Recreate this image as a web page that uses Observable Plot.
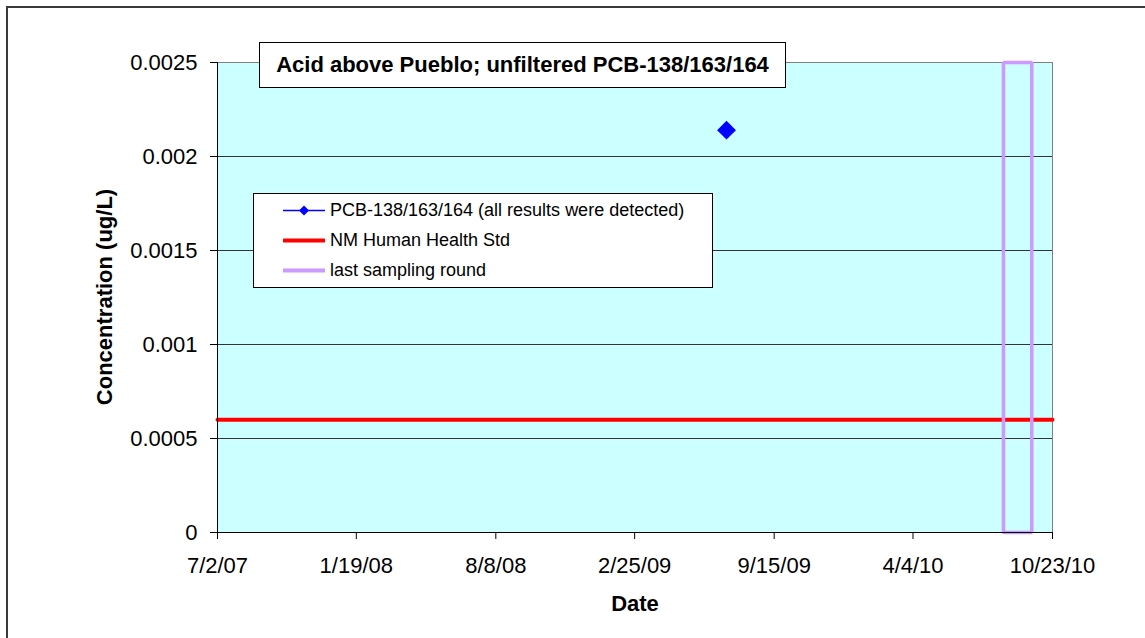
<!DOCTYPE html>
<html><head><meta charset="utf-8">
<script src="https://cdn.jsdelivr.net/npm/d3@7"></script>
<script src="https://cdn.jsdelivr.net/npm/@observablehq/plot@0.6"></script>
<style>
body{margin:0;background:#fff;}
#wrap{position:relative;width:1145px;height:638px;overflow:hidden;font-family:"Liberation Sans",Arial,sans-serif;color:#000;}
#outer{position:absolute;left:6px;top:6px;width:1300px;height:800px;border:2px solid #3a3a3a;box-sizing:border-box;}
#chart{position:absolute;left:0;top:0;}
.title{position:absolute;left:259px;top:42px;width:527px;height:46px;box-sizing:border-box;border:1px solid #000;background:#fff;font-weight:bold;font-size:22px;display:flex;align-items:center;justify-content:center;white-space:nowrap;}
.ylab{position:absolute;left:105px;top:297px;transform:translate(-50%,-50%) rotate(-90deg);font-weight:bold;font-size:22px;white-space:nowrap;}
.xlab{position:absolute;left:635px;top:604px;transform:translate(-50%,-50%);font-weight:bold;font-size:22px;white-space:nowrap;}
.legend{position:absolute;left:253px;top:193px;width:460px;height:95px;box-sizing:border-box;border:1px solid #000;background:#fff;}
.row{position:absolute;left:29px;transform:translateY(-50%);display:flex;align-items:center;font-size:18px;white-space:nowrap;}
.row svg{margin-right:5px;}
</style></head><body>
<div id="wrap"><div id="outer"></div><div id="chart"></div></div>
<script>
// ---- data ----
const xTickLabels = ["7/2/07","1/19/08","8/8/08","2/25/09","9/15/09","4/4/10","10/23/10"];
const yTicks = [0, 0.0005, 0.001, 0.0015, 0.002, 0.0025];
const pcbDates = ["7/8/09"];
const pcbValues = [0.00214];
const stdDates = ["7/2/07","10/23/10"];
const stdValues = [0.0006, 0.0006];
const lastRoundDates = ["8/13/10","8/13/10","9/23/10","9/23/10","8/13/10"];
const lastRoundValues = [0, 0.0025, 0.0025, 0, 0];
const seriesNames = ["PCB-138/163/164 (all results were detected)","NM Human Health Std","last sampling round"];
const titleText = "Acid above Pueblo; unfiltered PCB-138/163/164";

const parse = d3.utcParse("%m/%d/%y");
const fmt = d3.utcFormat("%-m/%-d/%y");
const xTicks = xTickLabels.map(parse);
const pcb = pcbDates.map((d,i)=>({date:parse(d), value:pcbValues[i]}));
const std = stdDates.map((d,i)=>({date:parse(d), value:stdValues[i]}));
const lastRound = lastRoundDates.map((d,i)=>({date:parse(d), value:lastRoundValues[i]}));
const domainX = [xTicks[0], xTicks[xTicks.length-1]];

const chart = Plot.plot({
  width: 1145, height: 638,
  marginLeft: 217, marginRight: 93, marginTop: 62, marginBottom: 106,
  style: {fontFamily: '"Liberation Sans", Arial, sans-serif', fontSize: "22px", background: "transparent", color: "#000"},
  x: {type: "utc", domain: domainX},
  y: {domain: [0, 0.0025]},
  marks: [
    Plot.frame({fill: "#ccffff", stroke: "#808080"}),
    Plot.ruleY(yTicks.filter(d => d > 0 && d < 0.0025), {stroke: "#333", strokeWidth: 1}),
    Plot.lineY(std, {x: "date", y: "value", stroke: "#ff0000", strokeWidth: 4}),
    Plot.line(lastRound, {x: "date", y: "value", stroke: "#cc99ff", strokeWidth: 3.5, strokeLinejoin: "miter"}),
    Plot.ruleX([domainX[0]], {stroke: "#000", strokeWidth: 1}),
    Plot.ruleY([0], {stroke: "#000", strokeWidth: 1}),
    Plot.dot(pcb, {x: "date", y: "value", symbol: "diamond2", r: 8.5, fill: "#0000ff", stroke: "none"}),
    Plot.axisY({ticks: yTicks, tickSize: 7, tickPadding: 13, stroke: "#000", label: null,
      tickFormat: d => d === 0 ? "0" : String(+d.toFixed(4)), fontSize: 22}),
    Plot.axisX({ticks: xTicks, tickSize: 7, tickPadding: 18, stroke: "#000", label: null,
      tickFormat: fmt, fontSize: 22})
  ]
});
document.getElementById("chart").appendChild(chart);

const wrap = document.getElementById("wrap");
function add(html){ const t = document.createElement("div"); t.innerHTML = html; const el = t.firstElementChild; wrap.appendChild(el); return el; }
add(`<div class="title"></div>`).textContent = titleText;
add(`<div class="ylab">Concentration (ug/L)</div>`);
add(`<div class="xlab">Date</div>`);
const legend = add(`<div class="legend"></div>`);
const rowsY = [16, 46, 76];
const samples = [
  `<svg width="42" height="12"><line x1="0" y1="6" x2="42" y2="6" stroke="#0000ff" stroke-width="1.5"/><path d="M21,1 L26,6 L21,11 L16,6 Z" fill="#0000ff"/></svg>`,
  `<svg width="42" height="12"><line x1="1" y1="6" x2="41" y2="6" stroke="#ff0000" stroke-width="4" stroke-linecap="round"/></svg>`,
  `<svg width="42" height="12"><line x1="1" y1="6" x2="41" y2="6" stroke="#cc99ff" stroke-width="4" stroke-linecap="round"/></svg>`
];
seriesNames.forEach((name, i) => {
  const r = document.createElement("div");
  r.className = "row";
  r.style.top = rowsY[i] + "px";
  r.innerHTML = samples[i];
  const s = document.createElement("span");
  s.textContent = name;
  r.appendChild(s);
  legend.appendChild(r);
});
</script>
</body></html>
